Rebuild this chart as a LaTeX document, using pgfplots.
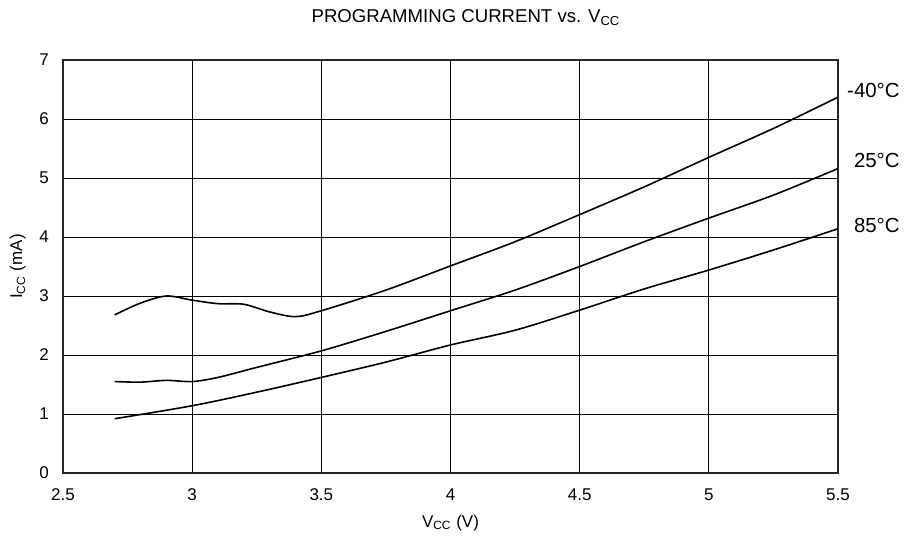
\documentclass[border=0pt]{standalone}
\usepackage{fontspec}
\setmainfont{Liberation Sans}
\usepackage{pgfplots}
\pgfplotsset{compat=1.18}
\begin{document}
\begin{tikzpicture}
\fontsize{8.5}{10}\selectfont
\begin{axis}[
  name=ax, at={(0,0)}, anchor=south west,
  scale only axis, width=387.5pt, height=206.5pt,
  xmin=2.5, xmax=5.5, ymin=0, ymax=7,
  xtick={2.5,3,3.5,4,4.5,5,5.5}, ytick={0,1,...,7},
  xticklabels={2.5,3,3.5,4,4.5,5,5.5},
  grid=major, major grid style={black, line width=0.5pt},
  major tick length=0pt,
  axis line style={black!85, line width=1pt},
  /pgf/number format/assume math mode=true,
  ticklabel style={font=\fontsize{8.5}{10}\selectfont},
  xticklabel style={yshift=-5pt},
  yticklabel style={xshift=-4pt},
  xlabel={V\textsubscript{CC} (V)},
  ylabel={I\textsubscript{CC} (mA)},
  xlabel style={font=\fontsize{8.5}{10}\selectfont, yshift=-1pt},
  ylabel style={font=\fontsize{8.5}{10}\selectfont, yshift=1pt},
  clip=false,
]
\addplot[black, line width=0.8pt, smooth, tension=0.5] coordinates {
(2.7,2.68) (2.8,2.88) (2.9,3.00) (3.0,2.93) (3.1,2.87) (3.2,2.86) (3.3,2.73) (3.4,2.65) (3.5,2.75) (3.75,3.10) (4.0,3.51) (4.25,3.92) (4.5,4.38) (4.75,4.85) (5.0,5.35) (5.25,5.84) (5.5,6.37)};
\addplot[black, line width=0.8pt, smooth, tension=0.5] coordinates {
(2.7,1.55) (2.8,1.54) (2.9,1.57) (3.0,1.55) (3.1,1.62) (3.25,1.79) (3.5,2.07) (3.75,2.40) (4.0,2.75) (4.25,3.10) (4.5,3.50) (4.75,3.92) (5.0,4.32) (5.25,4.71) (5.5,5.16)};
\addplot[black, line width=0.8pt, smooth, tension=0.5] coordinates {
(2.7,0.92) (3.0,1.14) (3.25,1.37) (3.5,1.62) (3.75,1.88) (4.0,2.17) (4.25,2.42) (4.5,2.76) (4.75,3.12) (5.0,3.44) (5.25,3.78) (5.5,4.14)};
\end{axis}
\node[anchor=east, font=\fontsize{10.2}{12}\selectfont, inner sep=0pt] at (418.5pt,191.5pt) {-40°C};
\node[anchor=east, font=\fontsize{10.2}{12}\selectfont, inner sep=0pt] at (418.5pt,156.5pt) {25°C};
\node[anchor=east, font=\fontsize{10.2}{12}\selectfont, inner sep=0pt] at (418.5pt,124pt) {85°C};
\node[font=\fontsize{9.3}{11}\selectfont] at (201.5pt,227.5pt) {PROGRAMMING CURRENT vs. V\textsubscript{CC}};
\pgfresetboundingbox
\path[use as bounding box] (-31.5pt,-34.5pt) rectangle (421pt,236.5pt);
\end{tikzpicture}
\end{document}
